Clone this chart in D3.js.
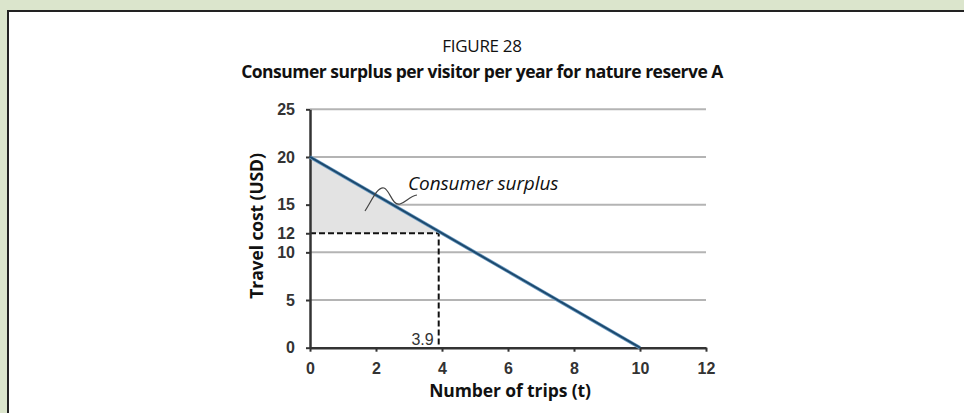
<!DOCTYPE html>
<meta charset="utf-8">
<script src="https://d3js.org/d3.v7.min.js"></script>
<style>
  body { margin: 0; background: #dbe5cc; }
  #chart { position: absolute; left: 7px; top: 10px; width: 957px; height: 403px;
           background: #fff; border-left: 2px solid #222; border-top: 2px solid #222; box-sizing: border-box; }
</style>
<body>
<div id="chart"></div>
<script>
// demand curve and the surplus point
var trips = [0, 10];
var cost = [20, 0];
var visitTrips = 3.9;
var visitCost = 12;
var yTicks = [0, 5, 10, 12, 15, 20, 25];
var gridTicks = [5, 10, 15, 20, 25];
var xTicks = [0, 2, 4, 6, 8, 10, 12];

var svg = d3.select("body").append("svg")
  .attr("width", 964).attr("height", 413)
  .style("position", "absolute").style("left", 0).style("top", 0);

var x = d3.scaleLinear().domain([0, 12]).range([310, 706]);
var y = d3.scaleLinear().domain([0, 25]).range([347.7, 109.3]);

// titles
svg.append("text")
  .attr("x", 482).attr("y", 52)
  .attr("text-anchor", "middle")
  .style("font-family", "Open Sans").style("font-size", "17px").style("fill", "#111")
  .style("letter-spacing", "-0.3px")
  .text("FIGURE 28");
svg.append("text")
  .attr("x", 482).attr("y", 78)
  .attr("text-anchor", "middle")
  .style("font-family", "Open Sans").style("font-weight", "bold").style("font-size", "17.5px").style("fill", "#111")
  .style("letter-spacing", "-0.5px")
  .text("Consumer surplus per visitor per year for nature reserve A");

// grid
svg.append("g").selectAll("line").data(gridTicks).enter().append("line")
  .attr("x1", x(0)).attr("x2", x(12))
  .attr("y1", d => y(d)).attr("y2", d => y(d))
  .attr("stroke", "#b4b4b4").attr("stroke-width", 2);

// shaded consumer surplus
var tri = [[0, cost[0]], [visitTrips, visitCost], [0, visitCost]];
svg.append("path")
  .attr("d", d3.line().x(d => x(d[0])).y(d => y(d[1]))(tri) + "Z")
  .attr("fill", "#e3e3e3");

// dashed guides
svg.append("path")
  .attr("d", d3.line().x(d => x(d[0])).y(d => y(d[1]))([[0, visitCost], [visitTrips, visitCost], [visitTrips, 0]]))
  .attr("fill", "none").attr("stroke", "#111").attr("stroke-width", 2)
  .attr("stroke-dasharray", "6,3");

// axes
var yAxis = svg.append("g")
  .attr("transform", "translate(" + x(0) + ",0)")
  .call(d3.axisLeft(y).tickValues(yTicks).tickSize(4).tickPadding(11).tickSizeOuter(0));
var xAxis = svg.append("g")
  .attr("transform", "translate(0," + y(0) + ")")
  .call(d3.axisBottom(x).tickValues(xTicks).tickSize(4).tickPadding(11).tickSizeOuter(0));
[yAxis, xAxis].forEach(function(a) {
  a.attr("font-size", null).attr("font-family", null);
  a.select(".domain").attr("stroke", "#333").attr("stroke-width", 2.5);
  a.selectAll(".tick line").attr("stroke", "#333").attr("stroke-width", 2);
  a.selectAll("text")
    .style("font-family", "Liberation Sans").style("font-weight", "bold")
    .style("font-size", "16px").style("fill", "#333");
});

// demand line
var pts = trips.map((t, i) => [t, cost[i]]);
svg.append("path")
  .attr("d", d3.line().x(d => x(d[0])).y(d => y(d[1]))(pts))
  .attr("fill", "none").attr("stroke", "#6d9cc4").attr("stroke-width", 3.5);
svg.append("path")
  .attr("d", d3.line().x(d => x(d[0])).y(d => y(d[1]))(pts))
  .attr("fill", "none").attr("stroke", "#1d4a6e").attr("stroke-width", 2);

// 3.9 label
svg.append("text")
  .attr("x", x(visitTrips) - 5).attr("y", y(0) - 3)
  .attr("text-anchor", "end")
  .style("font-family", "Liberation Sans").style("font-size", "16px").style("fill", "#333")
  .text(visitTrips);

// annotation
svg.append("text")
  .attr("x", 408).attr("y", 190)
  .style("font-family", "Open Sans").style("font-style", "italic").style("font-size", "19px").style("fill", "#111")
  .style("letter-spacing", "-0.1px")
  .text("Consumer surplus");
svg.append("path")
  .attr("d", "M365,211 C372,200 378,186 384,188 C390,190 392,206 400,204 C406,202 410,196 417,195")
  .attr("fill", "none").attr("stroke", "#444").attr("stroke-width", 1.2);

// axis titles
svg.append("text")
  .attr("transform", "translate(263,226) rotate(-90)")
  .attr("text-anchor", "middle")
  .style("font-family", "Open Sans").style("font-weight", "bold").style("font-size", "17.5px").style("fill", "#111")
  .style("letter-spacing", "-0.1px")
  .text("Travel cost (USD)");
svg.append("text")
  .attr("x", 510).attr("y", 397)
  .attr("text-anchor", "middle")
  .style("font-family", "Open Sans").style("font-weight", "bold").style("font-size", "17.5px").style("fill", "#111")
  .style("letter-spacing", "-0.1px")
  .text("Number of trips (t)");
</script>
</body>
